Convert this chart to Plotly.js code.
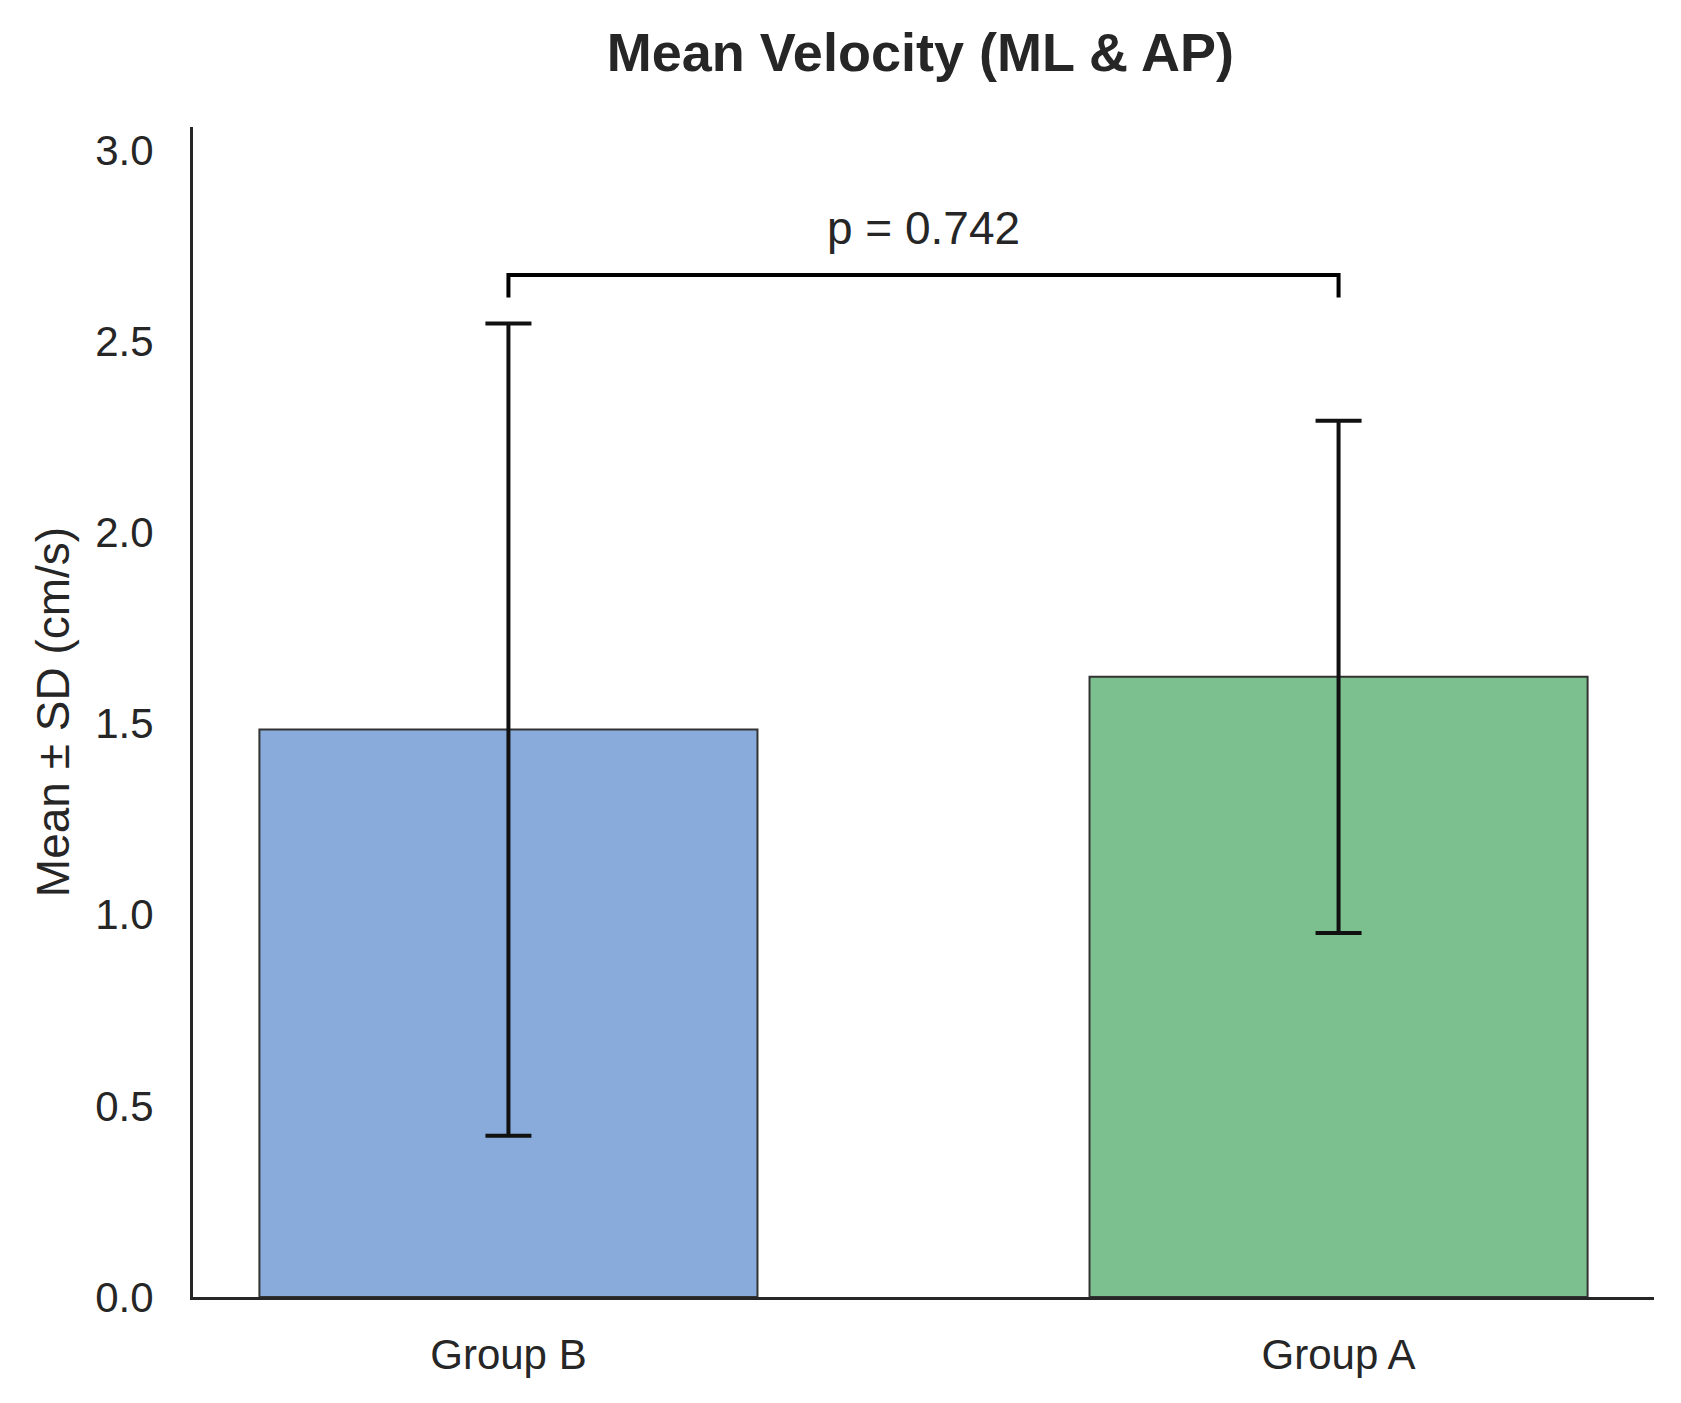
<!DOCTYPE html>
<html>
<head>
<meta charset="utf-8">
<script src="https://cdn.plot.ly/plotly-3.0.1.min.js"></script>
<style>
  html, body { margin: 0; padding: 0; background: #fff; }
  #graph { width: 1681px; height: 1403px; }
</style>
</head>
<body>
<div id="graph"></div>
<script>
// values
var groups = ['Group B', 'Group A'];
var means = [1.484, 1.622];
var sds = [1.062, 0.670];
var barColors = ['#88abdb', '#7bc08e'];

var yTicks = [0, 0.5, 1.0, 1.5, 2.0, 2.5, 3.0];
var yTickText = ['0.0', '0.5', '1.0', '1.5', '2.0', '2.5', '3.0'];

// significance bracket between the two groups
var bracketX = ['Group B', 'Group B', 'Group A', 'Group A'];
var bracketY = [2.614, 2.673, 2.673, 2.614];
var pLabel = 'p = 0.742';

var textColor = '#262626';

/* -------------Bars with SD error bars------------ */

var bars = {
    x: groups,
    y: means,
    type: 'bar',
    width: 0.6,
    marker: {
        color: barColors,
        line: { color: '#333333', width: 2 }
    },
    error_y: {
        type: 'data',
        array: sds,
        visible: true,
        color: '#111111',
        thickness: 4,
        width: 23
    },
    hoverinfo: 'none'
};

var bracket = {
    x: bracketX,
    y: bracketY,
    mode: 'lines',
    line: { color: '#000000', width: 4 },
    hoverinfo: 'none'
};

var layout = {
    width: 1681,
    height: 1403,
    showlegend: false,
    paper_bgcolor: '#ffffff',
    plot_bgcolor: '#ffffff',
    margin: { l: 193, r: 27, t: 127, b: 106 },
    font: { family: 'Liberation Sans, Arial, sans-serif', color: textColor },
    title: {
        text: 'Mean Velocity (ML & AP)',
        font: { size: 54, weight: 'bold', color: textColor },
        x: 0.5475,
        xanchor: 'center',
        y: 1 - 52 / 1403,
        yanchor: 'middle'
    },
    xaxis: {
        type: 'category',
        range: [-0.38, 1.38],
        autorange: false,
        showgrid: false,
        zeroline: false,
        showline: true,
        linecolor: textColor,
        linewidth: 3,
        ticks: 'outside',
        ticklen: 19,
        tickcolor: 'rgba(0,0,0,0)',
        tickfont: { size: 42, color: textColor }
    },
    yaxis: {
        range: [0, 3.06],
        autorange: false,
        showgrid: false,
        zeroline: false,
        showline: true,
        linecolor: textColor,
        linewidth: 3,
        tickvals: yTicks,
        ticktext: yTickText,
        ticks: 'outside',
        ticklen: 28,
        tickcolor: 'rgba(0,0,0,0)',
        tickfont: { size: 42, color: textColor },
        title: {
            text: 'Mean ± SD (cm/s)',
            font: { size: 46, color: textColor },
            standoff: 12
        }
    },
    annotations: [{
        x: 0.5,
        y: 2.795,
        xref: 'x',
        yref: 'y',
        text: pLabel,
        showarrow: false,
        xanchor: 'center',
        yanchor: 'middle',
        font: { size: 46, color: textColor }
    }]
};

var graph = document.getElementById('graph');
Plotly.newPlot(graph, [bars, bracket], layout, { staticPlot: true });
</script>
</body>
</html>
